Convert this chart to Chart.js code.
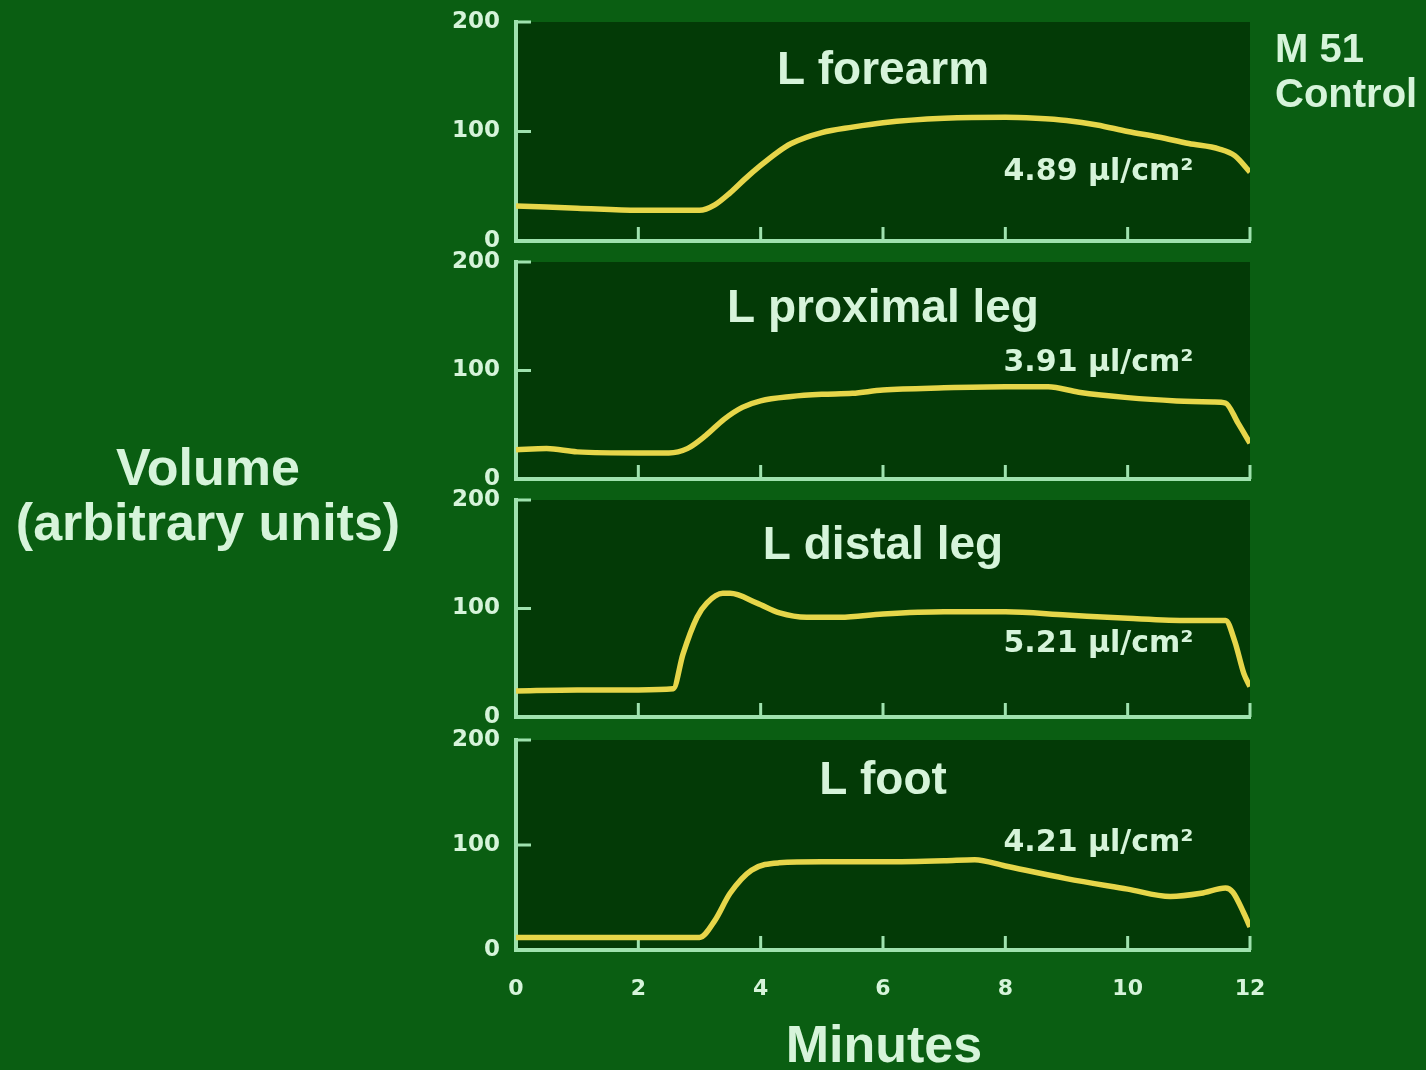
<!DOCTYPE html>
<html>
<head>
<meta charset="utf-8">
<script src="https://cdn.jsdelivr.net/npm/chart.js@4/dist/chart.umd.min.js"></script>
<style>
  html, body { margin: 0; padding: 0; width: 1426px; height: 1070px; overflow: hidden; background: #0a5e12; }
  canvas.panel { position: absolute; left: 0; }
  .txt { position: absolute; color: #d6f4da; font-family: "Liberation Sans", Arial, sans-serif; font-weight: bold; white-space: nowrap; }
</style>
</head>
<body>
<canvas class="panel" id="p0"></canvas>
<canvas class="panel" id="p1"></canvas>
<canvas class="panel" id="p2"></canvas>
<canvas class="panel" id="p3"></canvas>

<div class="txt" style="left:-2px; top:440px; width:420px; text-align:center; font-size:52px; line-height:55px;">Volume<br>(arbitrary units)</div>
<div class="txt" style="left:684px; top:1017px; width:400px; text-align:center; font-size:52px; line-height:55px;">Minutes</div>
<div class="txt" style="left:1275px; top:26px; font-size:40px; line-height:45px;">M 51<br>Control</div>

<script>
// Panel names and the volume figure printed inside each panel
const panelNames = ['L forearm', 'L proximal leg', 'L distal leg', 'L foot'];
const volumeLabels = ['4.89 µl/cm²', '3.91 µl/cm²', '5.21 µl/cm²', '4.21 µl/cm²'];

// Axis ticks
const minuteTicks = [0, 2, 4, 6, 8, 10, 12];
const volumeTicks = [0, 100, 200];

// L forearm
const forearmMin = [0, 1, 2, 3, 3.25, 3.5, 3.75, 4, 4.25, 4.5, 5, 5.5, 6, 7, 8, 8.5, 9, 9.5, 10, 10.5, 11, 11.5, 11.75, 12];
const forearmVol = [32, 30, 28, 28, 33, 44, 57, 69, 80, 89, 99, 104, 108, 112, 113, 112, 110, 106, 100, 95, 89, 84, 78, 63];

// L proximal leg
const proxLegMin = [0, 0.5, 1, 2, 2.5, 2.8, 3.1, 3.4, 3.7, 4, 4.5, 5, 5.5, 6, 7, 8, 8.7, 9.2, 10, 10.8, 11.4, 11.6, 11.8, 12];
const proxLegVol = [27, 28, 25, 24, 24, 28, 40, 55, 66, 72, 76, 78, 79, 82, 84, 85, 85, 80, 75, 72, 71, 70, 52, 33];

// L distal leg
const distLegMin = [0, 1, 2, 2.57, 2.73, 2.96, 3.12, 3.38, 3.5, 3.94, 4.31, 4.75, 5.3, 6, 7, 8, 9, 10, 11, 11.6, 11.75, 11.9, 12];
const distLegVol = [24, 25, 25, 26, 58, 92, 105, 114, 114, 105, 96, 92, 92, 95, 97, 97, 94, 91, 89, 89, 70, 40, 28];

// L foot
const footMin = [0, 1, 2, 3, 3.25, 3.5, 3.85, 4.3, 5, 6, 7, 7.5, 8, 9, 10, 10.7, 11.2, 11.6, 11.72, 11.9, 12];
const footVol = [12, 12, 12, 12, 28, 54, 76, 83, 84, 84, 85, 86, 80, 68, 58, 51, 54, 59, 55, 35, 22];

const seriesMin = [forearmMin, proxLegMin, distLegMin, footMin];
const seriesVol = [forearmVol, proxLegVol, distLegVol, footVol];

// Page placement of each panel's plot box (top = 200, bottom = 0)
const boxes = [
  { top: 22, bottom: 241 },
  { top: 262, bottom: 479 },
  { top: 500, bottom: 717 },
  { top: 740, bottom: 950 }
];

const AXIS = '#9fe2ae';
const TEXT = '#d6f4da';
const PLOT_BG = '#033a06';
const CURVE = '#e6d64a';

// Dark plot background, inward tick marks and the in-panel labels
const panelDecor = {
  id: 'panelDecor',
  beforeDraw(chart) {
    const a = chart.chartArea, ctx = chart.ctx;
    ctx.save();
    ctx.fillStyle = PLOT_BG;
    ctx.fillRect(a.left, a.top, a.right - a.left, a.bottom - a.top);
    ctx.restore();
  },
  beforeDatasetsDraw(chart) {
    const ctx = chart.ctx, x = chart.scales.x, y = chart.scales.y;
    ctx.save();
    ctx.strokeStyle = AXIS;
    ctx.lineWidth = 3;
    ctx.lineCap = 'butt';
    volumeTicks.forEach(v => {
      if (v === 0) return;
      const py = y.getPixelForValue(v);
      ctx.beginPath();
      ctx.moveTo(x.left, py);
      ctx.lineTo(x.left + 15, py);
      ctx.stroke();
    });
    minuteTicks.forEach(m => {
      if (m === 0) return;
      const px = x.getPixelForValue(m);
      ctx.beginPath();
      ctx.moveTo(px, y.bottom);
      ctx.lineTo(px, y.bottom - 14);
      ctx.stroke();
    });
    ctx.restore();
  },
  afterDatasetsDraw(chart, args, opts) {
    const ctx = chart.ctx, x = chart.scales.x, y = chart.scales.y;
    ctx.save();
    ctx.fillStyle = TEXT;
    ctx.textBaseline = 'middle';
    ctx.textAlign = 'center';
    ctx.font = 'bold 46px "Liberation Sans", Arial, sans-serif';
    ctx.fillText(opts.title, x.getPixelForValue(6), y.getPixelForValue(opts.titleAt));
    ctx.textAlign = 'left';
    ctx.font = 'bold 30px "DejaVu Sans", sans-serif';
    ctx.fillText(opts.value, x.getPixelForValue(7.97), y.getPixelForValue(opts.valueAt));
    ctx.restore();
  }
};

const titleAt = [155, 156, 157, 161];
const valueAt = [63, 107, 67, 102];

function noOverflow(scale) {
  scale.paddingTop = 0;
  scale.paddingBottom = 0;
  scale.paddingLeft = 0;
  scale.paddingRight = 0;
}

boxes.forEach((box, i) => {
  const last = i === boxes.length - 1;
  const padTop = 20;
  const xHeight = last ? 120 : 20;
  const canvas = document.getElementById('p' + i);
  const h = box.bottom - box.top + padTop + xHeight;
  canvas.width = 1426;
  canvas.height = h;
  canvas.style.top = (box.top - padTop) + 'px';
  canvas.style.width = '1426px';
  canvas.style.height = h + 'px';

  const points = seriesMin[i].map((m, k) => ({ x: m, y: seriesVol[i][k] }));

  new Chart(canvas, {
    type: 'line',
    data: {
      datasets: [{
        data: points,
        borderColor: CURVE,
        borderWidth: 5.5,
        pointRadius: 0,
        fill: false,
        tension: 0.4,
        cubicInterpolationMode: 'monotone'
      }]
    },
    plugins: [panelDecor],
    options: {
      responsive: false,
      animation: false,
      events: [],
      layout: { padding: { left: 0, right: 176, top: padTop, bottom: 0 } },
      plugins: {
        legend: { display: false },
        tooltip: { enabled: false },
        panelDecor: { title: panelNames[i], value: volumeLabels[i], titleAt: titleAt[i], valueAt: valueAt[i] }
      },
      scales: {
        x: {
          type: 'linear',
          min: 0,
          max: 12,
          afterFit(scale) { scale.height = xHeight; noOverflow(scale); },
          afterBuildTicks(scale) { scale.ticks = minuteTicks.map(v => ({ value: v })); },
          grid: { display: false, drawTicks: false },
          border: { display: true, color: AXIS, width: 4 },
          ticks: {
            display: last,
            padding: 26,
            color: TEXT,
            maxRotation: 0,
            font: { family: '"DejaVu Sans", sans-serif', weight: 'bold', size: 22 }
          }
        },
        y: {
          type: 'linear',
          min: 0,
          max: 200,
          afterFit(scale) { scale.width = 516; noOverflow(scale); },
          afterBuildTicks(scale) { scale.ticks = volumeTicks.map(v => ({ value: v })); },
          grid: { display: false, drawTicks: false },
          border: { display: true, color: AXIS, width: 4 },
          ticks: {
            padding: 16,
            color: TEXT,
            font: { family: '"DejaVu Sans", sans-serif', weight: 'bold', size: 23 }
          }
        }
      }
    }
  });
});
</script>
</body>
</html>
